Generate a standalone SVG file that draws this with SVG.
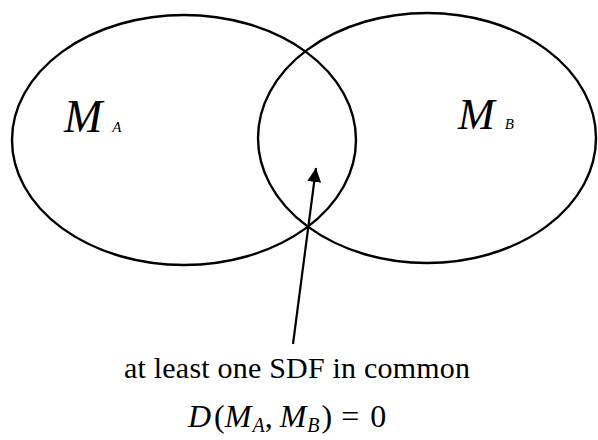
<svg xmlns="http://www.w3.org/2000/svg" width="598" height="440" viewBox="0 0 598 440">
<style>
.set{fill:none;stroke:#000;stroke-width:2.4}
.lbl{font-family:"Liberation Serif","DejaVu Serif",serif;font-style:italic;fill:#000}
.cap{font-family:"Liberation Serif","DejaVu Serif",serif;fill:#000;font-size:30px}
.math{font-family:"Liberation Serif","DejaVu Serif",serif;fill:#000;font-size:32px}
.it{font-style:italic}
.sub{font-style:italic;font-size:20px}
</style>
<defs>
<marker id="ah" markerWidth="16" markerHeight="16" refX="14" refY="7" orient="auto" markerUnits="userSpaceOnUse">
<path d="M0,0 L14,7 L0,14 Z" fill="#000"/>
</marker>
</defs>
<rect width="598" height="440" fill="#fff"/>
<g id="setA">
<ellipse class="set" cx="184" cy="140" rx="172" ry="125"/>
<text class="lbl" x="64" y="132" font-size="46">M<tspan font-size="15" dx="10">A</tspan></text>
</g>
<g id="setB">
<ellipse class="set" cx="427" cy="138" rx="169" ry="125"/>
<text class="lbl" x="458" y="129" font-size="44">M<tspan font-size="15" dx="10">B</tspan></text>
</g>
<g id="connectors">
<line x1="293" y1="344" x2="316" y2="168" stroke="#000" stroke-width="2.2" marker-end="url(#ah)"/>
</g>
<g id="caption">
<text class="cap" x="124" y="378" textLength="346" lengthAdjust="spacing">at least one SDF in common</text>
<text class="math" x="188" y="427"><tspan class="it">D</tspan><tspan dx="3">(</tspan><tspan class="it">M</tspan><tspan class="sub" dx="1" dy="5">A</tspan><tspan dy="-5">,</tspan><tspan class="it" dx="7">M</tspan><tspan class="sub" dx="1" dy="5">B</tspan><tspan dx="2" dy="-5">)</tspan><tspan dx="9">=</tspan><tspan dx="11">0</tspan></text>
</g>
</svg>
